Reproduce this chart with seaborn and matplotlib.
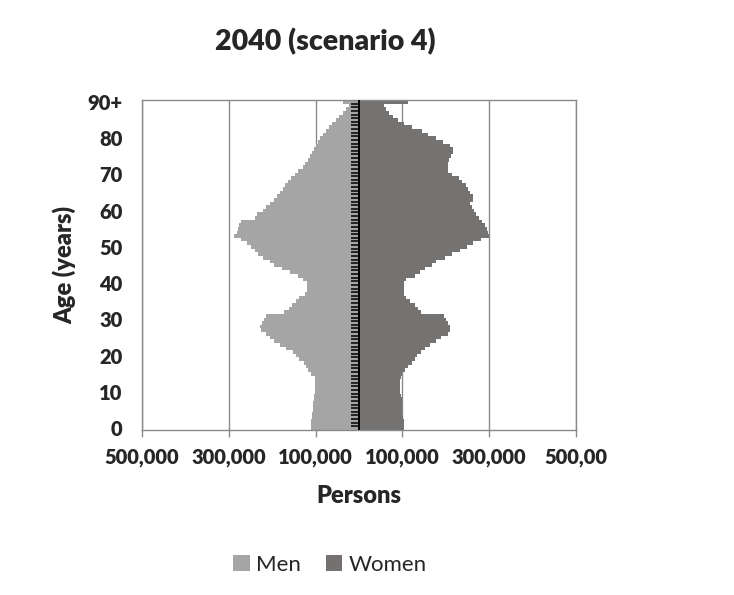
import numpy as np
import pandas as pd
import matplotlib
matplotlib.use("Agg")
import matplotlib.pyplot as plt
import seaborn as sns
from matplotlib.patches import Patch

# Dane (liczba osob w tys., wiek 0..90+)
ages = list(range(91))
men_k = [110, 110, 110, 109, 108, 107, 106, 105, 104, 103,
         102, 101, 101, 101, 102, 110, 117, 122, 126, 138,
         145, 152, 168, 182, 196, 205, 215, 226, 228, 224,
         220, 214, 172, 162, 154, 145, 138, 125, 120, 119,
         120, 128, 140, 160, 178, 196, 205, 222, 232, 240,
         250, 258, 272, 288, 282, 278, 276, 272, 240, 236,
         222, 214, 205, 196, 189, 182, 176, 170, 164, 156,
         148, 140, 130, 124, 118, 112, 108, 103, 99, 94,
         90, 82, 76, 68, 62, 52, 46, 38, 30, 24,
         36]
women_k = [104, 104, 103, 102, 100, 99, 99, 99, 98, 96,
           95, 94, 94, 94, 96, 100, 106, 114, 122, 128,
           133, 142, 152, 163, 178, 190, 205, 209, 209, 205,
           200, 195, 142, 136, 128, 118, 108, 104, 103, 103,
           104, 108, 128, 140, 153, 168, 178, 198, 214, 232,
           248, 262, 282, 300, 298, 296, 290, 283, 276, 270,
           266, 260, 255, 262, 262, 256, 251, 246, 238, 230,
           214, 206, 205, 205, 207, 212, 216, 216, 209, 194,
           178, 160, 146, 122, 104, 90, 78, 70, 62, 58,
           113]
sex_labels = ["Men", "Women"]
x_ticks = [-500000, -300000, -100000, 100000, 300000, 500000]
x_ticklabels = ["500,000", "300,000", "100,000", "100,000", "300,000", "500,00"]
y_ticks = list(range(0, 91, 10))
y_ticklabels = ["0", "10", "20", "30", "40", "50", "60", "70", "80", "90+"]

df = pd.DataFrame({
    "age": ages * 2,
    "persons": [-v * 1000 for v in men_k] + [v * 1000 for v in women_k],
    "sex": [sex_labels[0]] * len(ages) + [sex_labels[1]] * len(ages),
})

kolory = {"Men": "#a5a5a5", "Women": "#767171"}

sns.set_style("white")
plt.rcParams["font.family"] = ["Lato", "DejaVu Sans"]

fig = plt.figure(figsize=(7.34, 5.95), dpi=100)
ax = fig.add_axes([142 / 734, 1 - 430 / 595, 434 / 734, 330 / 595])

sns.barplot(data=df, x="persons", y="age", hue="sex", orient="y",
            native_scale=True, dodge=False, width=1.0, palette=kolory,
            linewidth=0, legend=False, ax=ax)

ax.set_xlim(-500000, 500000)
ax.set_ylim(-0.5, 90.5)
ax.set_axisbelow(True)
ax.xaxis.grid(True, color="#8a8a8a", linewidth=1)
ax.yaxis.grid(False)

# os pionowa w srodku z kreskami dla kazdego wieku
ax.hlines([a - 0.5 for a in ages[1:]], -18000, 0, color="black", linewidth=1.1, zorder=5)
ax.axvline(0, color="black", linewidth=1.4, zorder=6)

ax.set_xticks(x_ticks)
ax.set_xticklabels(x_ticklabels, fontsize=14.5, fontweight="heavy")
ax.set_yticks(y_ticks)
ax.set_yticklabels(y_ticklabels, fontsize=14.5, fontweight="heavy")
ax.tick_params(axis="x", bottom=True, length=5, width=1, color="#8a8a8a",
               direction="out", pad=8)
ax.tick_params(axis="y", length=0, pad=14)
for s in ax.spines.values():
    s.set_color("#8a8a8a")
    s.set_linewidth(1)

ax.set_xlabel("Persons", fontsize=17, fontweight="heavy", labelpad=13)
ax.set_ylabel("Age (years)", fontsize=17, fontweight="heavy", labelpad=8)

fig.text(325 / 734, 1 - 42 / 595, "2040 (scenario 4)", ha="center", va="center",
         fontsize=20.5, fontweight="heavy")

handles = [Patch(facecolor=kolory[s], edgecolor="none", label=s) for s in sex_labels]
fig.legend(handles=handles, loc="center", bbox_to_anchor=(330 / 734, 1 - 565 / 595),
           ncol=2, frameon=False, fontsize=16, handlelength=0.75, handleheight=0.75,
           handletextpad=0.3, columnspacing=1.1)

fig.savefig("out.png", dpi=100)
